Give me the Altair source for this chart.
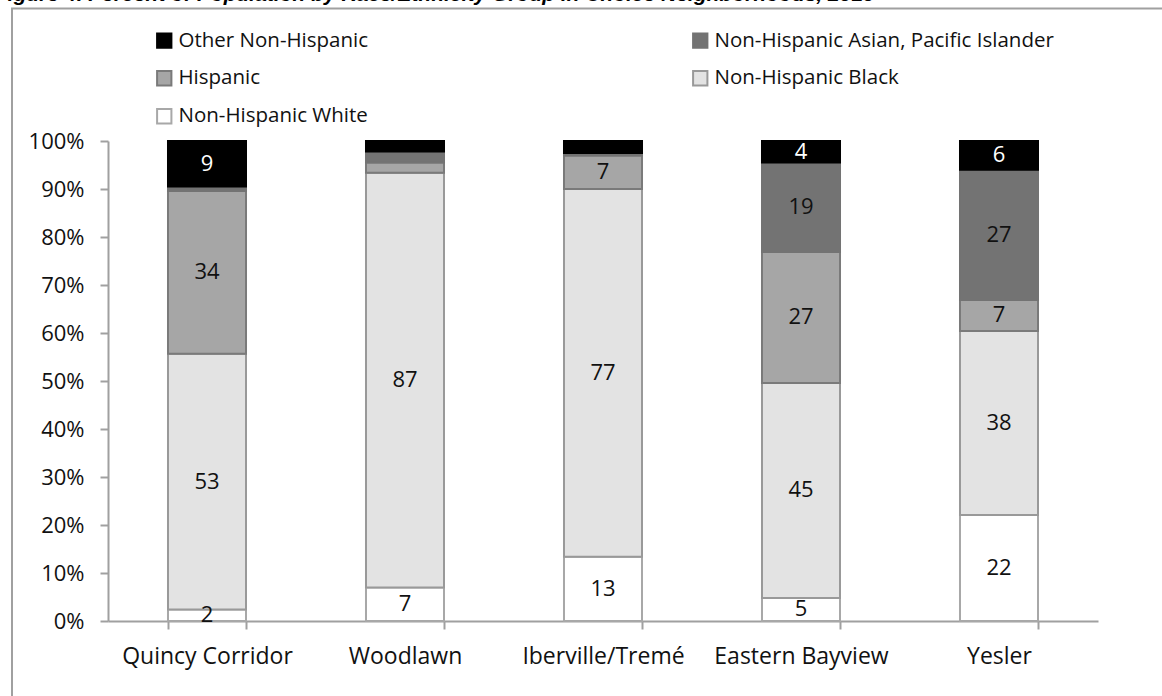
import altair as alt
import pandas as pd

neighborhoods = ["Quincy Corridor", "Woodlawn", "Iberville/Tremé", "Eastern Bayview", "Yesler"]
stack_groups = ["Non-Hispanic White", "Non-Hispanic Black", "Hispanic",
                "Non-Hispanic Asian, Pacific Islander", "Other Non-Hispanic"]
legend_order = ["Other Non-Hispanic", "Non-Hispanic Asian, Pacific Islander",
                "Hispanic", "Non-Hispanic Black", "Non-Hispanic White"]

white = [2.4, 7.0, 13.4, 4.8, 22.1]
black = [53.3, 86.4, 76.6, 44.8, 38.3]
hispanic = [33.9, 2.1, 7.0, 27.3, 6.5]
asian = [0.9, 2.3, 0.5, 18.6, 27.1]
other = [9.5, 2.2, 2.5, 4.5, 6.0]

lab_white = ["2", "7", "13", "5", "22"]
lab_black = ["53", "87", "77", "45", "38"]
lab_hisp = ["34", "", "7", "27", "7"]
lab_asian = ["", "", "", "19", "27"]
lab_other = ["9", "", "", "4", "6"]

fill_colors = ["#000000", "#737373", "#a6a6a6", "#e3e3e3", "#ffffff"]
stroke_colors = ["#000000", "#737373", "#7a7a7a", "#999999", "#a8a8a8"]

title_text = "Figure 4. Percent of Population by Race/Ethnicity Group in Choice Neighborhoods, 2010"

series = [white, black, hispanic, asian, other]
labels = [lab_white, lab_black, lab_hisp, lab_asian, lab_other]
rows = []
for i, nb in enumerate(neighborhoods):
    for k, g in enumerate(stack_groups):
        rows.append({"nb": nb, "group": g, "value": series[k][i],
                     "label": labels[k][i], "order": k})
df = pd.DataFrame(rows)

W, H = 990, 480
PL, PT = 108, 141

base = alt.Chart(df).transform_stack(
    stack="value", groupby=["nb"], sort=[alt.SortField("order")],
    as_=["y0", "y1"], offset="normalize"
).transform_calculate(mid="(datum.y0 + datum.y1) / 2")

xenc = alt.X("nb:N", sort=neighborhoods, title=None,
             scale=alt.Scale(paddingInner=0.606, paddingOuter=0.303),
             axis=alt.Axis(tickBand="extent", labelAngle=0, labelFont="Open Sans",
                           labelFontSize=23, labelColor="#111111", labelPadding=16,
                           domainColor="#a0a0a0", domainWidth=2, tickColor="#a0a0a0",
                           tickWidth=2, tickSize=8, grid=False))

legend = alt.Legend(title=None, orient="none", legendX=46, legendY=-111, columns=2,
                    direction="horizontal",
                    columnPadding=320, rowPadding=15, symbolType="square",
                    symbolSize=205, symbolStrokeWidth=2, labelFont="Open Sans",
                    labelFontSize=20.5, labelColor="#111111", labelOffset=4,
                    labelLimit=500)

bars = base.mark_bar(strokeWidth=2).encode(
    x=xenc,
    y=alt.Y("y0:Q", title=None, scale=alt.Scale(domain=[0, 1], nice=False),
            axis=alt.Axis(format=".0%", values=[i / 10 for i in range(11)],
                          labelFont="Open Sans", labelFontSize=22, labelColor="#111111",
                          labelPadding=16, domainColor="#a0a0a0", domainWidth=2,
                          tickColor="#a0a0a0", tickWidth=2, tickSize=8, grid=False)),
    y2="y1:Q",
    fill=alt.Fill("group:N", scale=alt.Scale(domain=legend_order, range=fill_colors),
                  legend=legend),
    stroke=alt.Stroke("group:N", scale=alt.Scale(domain=legend_order, range=stroke_colors),
                      legend=legend),
)

texts = base.mark_text(font="Open Sans", fontSize=22, baseline="middle").encode(
    x=alt.X("nb:N", sort=neighborhoods),
    y=alt.Y("mid:Q"),
    text="label:N",
    color=alt.condition(alt.datum.group == "Other Non-Hispanic",
                        alt.value("#ffffff"), alt.value("#111111")),
)

frame = alt.Chart(alt.Data(values=[{"k": 1}])).mark_rect(
    fillOpacity=0, stroke="#a0a0a0", strokeWidth=2
).encode(x=alt.value(-96), x2=alt.value(1200), y=alt.value(-132.5), y2=alt.value(700))

title = alt.Chart(alt.Data(values=[{"t": title_text}])).mark_text(
    font="Liberation Sans", fontSize=21, fontWeight="bold", fontStyle="italic",
    align="left", baseline="alphabetic", color="#000000"
).encode(x=alt.value(-113), y=alt.value(-140.5), text="t:N")

chart = alt.layer(frame, title, bars, texts).properties(
    width=W, height=H,
    autosize=alt.AutoSizeParams(type="none"),
    padding={"left": PL, "top": PT, "right": 1162 - PL - W, "bottom": 696 - PT - H},
).configure(background="white").configure_view(stroke=None)

chart.save("out.html", embed_options={"renderer": "svg", "actions": False})
